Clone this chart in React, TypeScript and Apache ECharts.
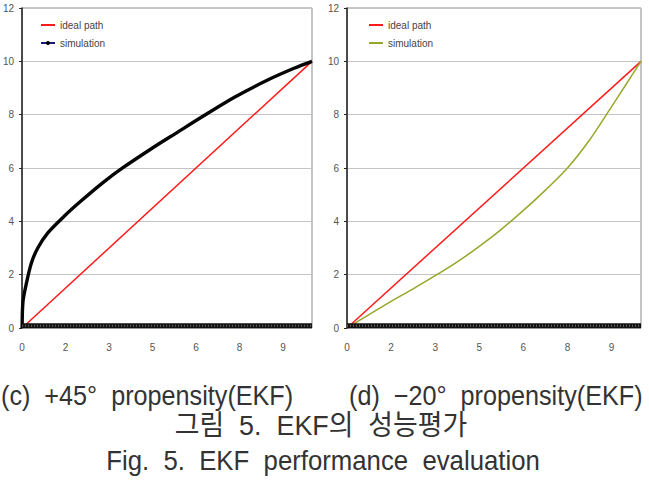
import React, { useEffect, useRef } from "react";
import * as echarts from "echarts";

// ---- data ----
const xTickLabels = ["0", "2", "3", "5", "6", "8", "9"];
const xTickStep = 1.5;

const idealPath: number[][] = [
  [0, 0],
  [10, 10],
];

// (c) +45° propensity (EKF) simulation
const simLeft: number[][] = [
  [0, 0],
  [0.03, 1.0],
  [0.15, 1.69],
  [0.32, 2.44],
  [0.54, 3.0],
  [0.88, 3.56],
  [1.45, 4.19],
  [2.02, 4.75],
  [2.81, 5.47],
  [3.49, 6.02],
  [4.51, 6.76],
  [5.3, 7.3],
  [6.21, 7.92],
  [7.34, 8.66],
  [8.47, 9.3],
  [9.38, 9.74],
  [10, 10],
];

// (d) -20° propensity (EKF) simulation
const simRight: number[][] = [
  [0, 0],
  [0.75, 0.5],
  [1.5, 1.0],
  [2.25, 1.47],
  [3.0, 1.96],
  [3.75, 2.48],
  [4.5, 3.06],
  [5.25, 3.7],
  [6.0, 4.41],
  [6.75, 5.17],
  [7.5, 6.0],
  [8.25, 7.05],
  [9.0, 8.3],
  [9.5, 9.15],
  [10, 10],
];

const baselineTrack: number[][] = [
  [0, 0.08],
  [10, 0.08],
];

const captionLeft = "(c)  +45°  propensity(EKF)";
const captionRight = "(d)  −20°  propensity(EKF)";
const captionKo = "그림  5.  EKF의  성능평가";
const captionEn = "Fig.  5.  EKF  performance  evaluation";

const FONT = '"Liberation Sans", Arial, sans-serif';
const CAP_FONT = '"Liberation Sans", "Noto Sans CJK KR", sans-serif';

function makeXAxis(gridIndex: number) {
  return {
    type: "value",
    gridIndex,
    min: 0,
    max: 10,
    interval: xTickStep,
    axisLine: { show: false },
    axisTick: { show: false },
    splitLine: { show: false },
    axisLabel: {
      showMaxLabel: false,
      margin: 14,
      color: "#555",
      fontSize: 10,
      fontFamily: FONT,
      formatter: (v: number) => {
        const i = Math.round(v / xTickStep);
        return Math.abs(i * xTickStep - v) < 1e-6 ? xTickLabels[i] ?? "" : "";
      },
    },
  };
}

function makeYAxis(gridIndex: number) {
  return {
    type: "value",
    gridIndex,
    min: 0,
    max: 12,
    interval: 2,
    axisLine: { show: true, lineStyle: { color: "#222", width: 1.5 } },
    axisTick: { show: true, length: 3, lineStyle: { color: "#222" } },
    splitLine: { show: true, lineStyle: { color: "#c4c4c4", width: 1 } },
    axisLabel: { margin: 8, color: "#555", fontSize: 10, fontFamily: FONT },
  };
}

function trackSeries(idx: number) {
  return [
    {
      type: "line",
      name: "track" + idx,
      xAxisIndex: idx,
      yAxisIndex: idx,
      data: baselineTrack,
      symbol: "none",
      clip: false,
      z: 5,
      lineStyle: { color: "#111", width: 5 },
    },
    {
      type: "line",
      name: "trackdots" + idx,
      xAxisIndex: idx,
      yAxisIndex: idx,
      data: baselineTrack,
      symbol: "none",
      clip: false,
      z: 6,
      lineStyle: { color: "#666", width: 2, type: [1, 2] },
    },
  ];
}

const noDot = { opacity: 0 };

export default function App() {
  const ref = useRef<HTMLDivElement>(null);

  useEffect(() => {
    if (!ref.current) return;
    const chart = echarts.init(ref.current, undefined, { renderer: "svg" });
    const capStyle = (text: string, align: string) => ({
      text,
      font: `28px ${CAP_FONT}`,
      fill: "#333",
      verticalAlign: "middle",
      align,
    });
    const option: any = {
      animation: false,
      backgroundColor: "#fff",
      grid: [
        { left: 17, top: 8, width: 295, height: 320, show: true, borderColor: "#8a8a8a", borderWidth: 1 },
        { left: 347, top: 8, width: 294, height: 320, show: true, borderColor: "#8a8a8a", borderWidth: 1 },
      ],
      xAxis: [makeXAxis(0), makeXAxis(1)],
      yAxis: [makeYAxis(0), makeYAxis(1)],
      legend: [
        {
          orient: "vertical",
          left: 35,
          top: 15,
          itemWidth: 14,
          itemHeight: 5,
          itemGap: 8,
          textStyle: { fontSize: 10, color: "#444", fontFamily: FONT },
          data: [
            { name: "ideal path", itemStyle: noDot },
            { name: "simulation", lineStyle: { color: "#1a1a80", width: 2 }, itemStyle: { color: "#000" } },
          ],
        },
        {
          orient: "vertical",
          left: 363,
          top: 15,
          itemWidth: 14,
          itemHeight: 5,
          itemGap: 8,
          textStyle: { fontSize: 10, color: "#444", fontFamily: FONT },
          formatter: (n: string) => n.replace(" (d)", ""),
          data: [
            { name: "ideal path (d)", itemStyle: noDot },
            { name: "simulation (d)", itemStyle: noDot },
          ],
        },
      ],
      series: [
        {
          type: "line",
          name: "ideal path",
          xAxisIndex: 0,
          yAxisIndex: 0,
          data: idealPath,
          symbol: "none",
          z: 3,
          lineStyle: { color: "#ff1a1a", width: 1.5 },
          itemStyle: { color: "#ff1a1a" },
        },
        {
          type: "line",
          name: "simulation",
          xAxisIndex: 0,
          yAxisIndex: 0,
          data: simLeft,
          symbol: "none",
          smooth: 0.3,
          z: 4,
          lineStyle: { color: "#050505", width: 3.4 },
          itemStyle: { color: "#000" },
        },
        {
          type: "line",
          name: "ideal path (d)",
          xAxisIndex: 1,
          yAxisIndex: 1,
          data: idealPath,
          symbol: "none",
          z: 3,
          lineStyle: { color: "#ff1a1a", width: 1.5 },
          itemStyle: { color: "#ff1a1a" },
        },
        {
          type: "line",
          name: "simulation (d)",
          xAxisIndex: 1,
          yAxisIndex: 1,
          data: simRight,
          symbol: "none",
          smooth: 0.3,
          z: 4,
          lineStyle: { color: "#97a72a", width: 1.5 },
          itemStyle: { color: "#97a72a" },
        },
        ...trackSeries(0),
        ...trackSeries(1),
      ],
      graphic: [
        { type: "text", x: 1, y: 396, scaleX: 0.9, style: capStyle(captionLeft, "left") },
        { type: "text", x: 349, y: 396, scaleX: 0.9, style: capStyle(captionRight, "left") },
        { type: "text", x: 321, y: 425, scaleX: 0.96, style: capStyle(captionKo, "center") },
        { type: "text", x: 323, y: 461, scaleX: 0.92, style: capStyle(captionEn, "center") },
      ],
    };
    chart.setOption(option);
    return () => chart.dispose();
  }, []);

  return (
    <div
      ref={ref}
      style={{ position: "fixed", left: 0, top: 0, width: 649, height: 485, background: "#fff" }}
    />
  );
}
